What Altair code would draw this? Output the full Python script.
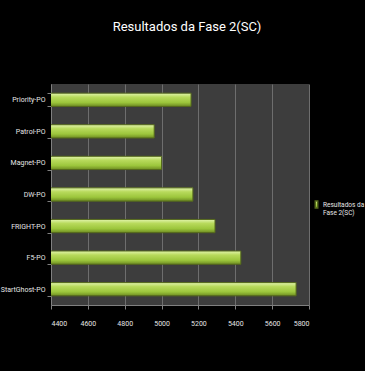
import altair as alt
import pandas as pd

categories = ["Priority-PO", "Patrol-PO", "Magnet-PO", "DW-PO", "FRIGHT-PO", "F5-PO", "StartGhost-PO"]
values = [5160, 4960, 5000, 5170, 5290, 5430, 5730]
series_name = "Resultados da Fase 2(SC)"
x_ticks = [4400, 4600, 4800, 5000, 5200, 5400, 5600, 5800]

df = pd.DataFrame({"categoria": categories, "valor": values, "serie": [series_name] * len(categories)})

FONT = "Liberation Sans Narrow, Roboto, Liberation Sans, sans-serif"
TXT = "#e6e6e6"
AXC = "#808080"

grad = alt.Gradient(
    gradient="linear",
    stops=[
        alt.GradientStop(color="#e2f4ad", offset=0),
        alt.GradientStop(color="#b8da5c", offset=0.3),
        alt.GradientStop(color="#9cc63c", offset=0.7),
        alt.GradientStop(color="#6e8c22", offset=1),
    ],
    x1=0, x2=0, y1=0, y2=1,
)

chart = alt.Chart(df).mark_bar(fill=grad, strokeWidth=1, clip=True).encode(
    y=alt.Y("categoria:N", sort=None,
            scale=alt.Scale(paddingInner=0.58, paddingOuter=0.29),
            axis=alt.Axis(title=None, labelFont=FONT, labelFontSize=7, labelColor=TXT,
                          domainColor=AXC, tickColor=AXC, tickSize=4, tickBand="extent",
                          labelPadding=2, grid=False)),
    x=alt.X("valor:Q",
            scale=alt.Scale(domain=[4400, 5800], nice=False, zero=False),
            axis=alt.Axis(title=None, values=x_ticks, labelFont=FONT, labelFontSize=7, labelColor=TXT,
                          domainColor=AXC, tickColor=AXC, tickSize=4, labelPadding=10,
                          grid=True, gridColor="#6e6e6e", gridWidth=1, format="d")),
    stroke=alt.Stroke("serie:N", scale=alt.Scale(range=["#55691c"]),
                      legend=alt.Legend(title=None, orient="none", legendX=261, legendY=116,
                                        padding=0,
                                        labelFont=FONT, labelFontSize=6.5, labelColor=TXT,
                                        symbolType="M-0.35,-1L0.35,-1L0.35,1L-0.35,1Z",
                                        symbolSize=50, symbolFillColor="#a6cc48",
                                        symbolStrokeColor="#55691c", labelOffset=2,
                                        labelExpr="['Resultados da', 'Fase 2(SC)']")),
).properties(
    width=258,
    height=221,
    title=alt.TitleParams(series_name, font=FONT, fontSize=13, fontWeight="normal",
                          color="#ffffff", anchor="middle", offset=46, dx=7),
    background="#000000",
    padding={"left": 51, "top": 84, "right": 56, "bottom": 66},
    autosize=alt.AutoSizeParams(type="none"),
).configure_view(fill="#3d3d3d", stroke=None)

chart.save("out.html", embed_options={"renderer": "svg", "actions": False})
